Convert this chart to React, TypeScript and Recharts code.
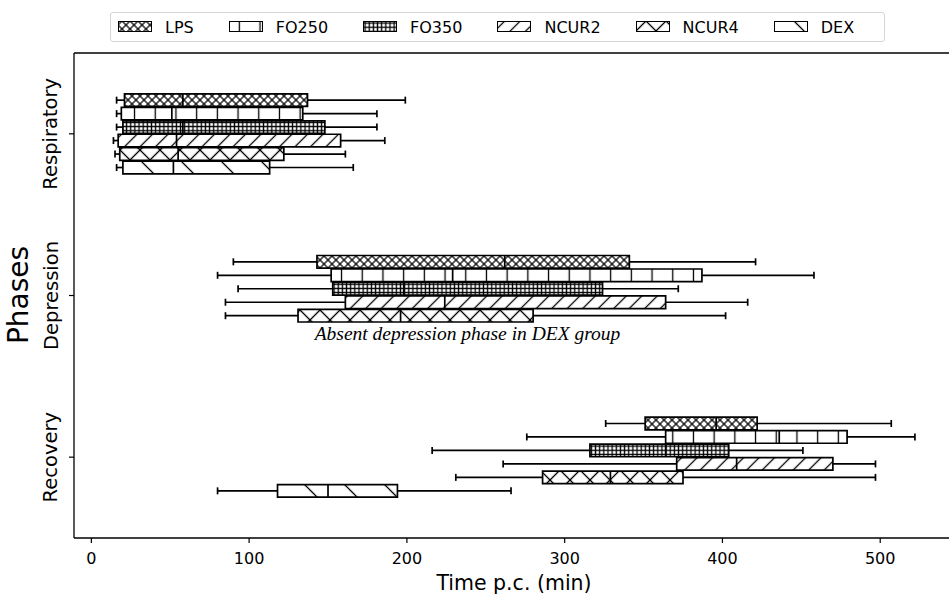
import React from "react";
import { ComposedChart, XAxis, YAxis, Scatter, ReferenceArea, ReferenceLine } from "recharts";

const phases = ["Respiratory", "Depression", "Recovery"];
const groups = ["LPS", "FO250", "FO350", "NCUR2", "NCUR4", "DEX"];
const xTicks = [0, 100, 200, 300, 400, 500];

// [whisker low, q1, median, q3, whisker high] per phase (Respiratory, Depression, Recovery)
const lps = [[16, 21, 58, 137, 199], [90, 143, 262, 341, 421], [326, 351, 396, 422, 507]];
const fo250 = [[16, 19, 51, 134, 181], [80, 152, 229, 387, 458], [276, 364, 436, 479, 522]];
const fo350 = [[16, 20, 58, 148, 181], [93, 153, 198, 324, 372], [216, 316, 364, 404, 451]];
const ncur2 = [[14, 17, 54, 158, 186], [85, 161, 224, 364, 416], [261, 371, 409, 470, 497]];
const ncur4 = [[15, 18, 55, 122, 161], [85, 131, 196, 280, 402], [231, 286, 329, 375, 497]];
const dex = [[16, 20, 52, 113, 166], null, [80, 118, 150, 194, 266]];

const stats = [lps, fo250, fo350, ncur2, ncur4, dex];

// hatch: spacing (px along x), angle, crossed
const hatches = [
  { id: "pat-LPS", spacing: 8, angle: 45, cross: true },
  { id: "pat-FO250", spacing: 20.7, angle: 0, cross: false },
  { id: "pat-FO350", spacing: 4.15, angle: 0, cross: true },
  { id: "pat-NCUR2", spacing: 15.5, angle: 45, cross: false },
  { id: "pat-NCUR4", spacing: 20, angle: 45, cross: true },
  { id: "pat-DEX", spacing: 40, angle: -45, cross: false },
];

const SLOT = 1 / 12;
const HALF = 0.039;
const CAP = 3.5;
const FONT = "DejaVu Sans, sans-serif";

type Row = { g: number; y: number; min: number; q1: number; med: number; q3: number; max: number };

const rows: Row[] = [];
phases.forEach((_, p) => {
  stats.forEach((s, g) => {
    const v = s[p];
    if (!v) return;
    rows.push({ g, y: p + (g - 2.5) * SLOT, min: v[0], q1: v[1], med: v[2], q3: v[3], max: v[4] });
  });
});

const caps = rows.flatMap((r) => [
  { x: r.min, y: r.y },
  { x: r.max, y: r.y },
]);
const medians = rows.map((r) => ({ x: r.med, y: r.y }));

function Patterns() {
  return (
    <svg width={0} height={0} style={{ position: "absolute" }}>
      <defs>
        {hatches.map((h) => {
          const p = h.angle === 0 ? h.spacing : h.spacing / Math.SQRT2;
          return (
            <pattern
              key={h.id}
              id={h.id}
              patternUnits="userSpaceOnUse"
              width={p}
              height={p}
              patternTransform={`rotate(${h.angle})`}
            >
              <rect width={p} height={p} fill="#fff" />
              <line x1={p / 2} y1={0} x2={p / 2} y2={p} stroke="#000" strokeWidth={1.3} />
              {h.cross && <line x1={0} y1={p / 2} x2={p} y2={p / 2} stroke="#000" strokeWidth={1.3} />}
            </pattern>
          );
        })}
      </defs>
    </svg>
  );
}

const XTick = (props: any) => {
  const { x, payload } = props;
  return (
    <text x={x} y={558} textAnchor="middle" dominantBaseline="central" fontSize={16} fontFamily={FONT} fill="#000">
      {payload.value}
    </text>
  );
};

const YTick = (props: any) => {
  const { y, payload } = props;
  return (
    <text
      x={51}
      y={y}
      transform={`rotate(-90, 51, ${y})`}
      textAnchor="middle"
      dominantBaseline="central"
      fontSize={19.5}
      fontFamily={FONT}
      fill="#000"
    >
      {phases[payload.value]}
    </text>
  );
};

const CapShape = (props: any) => (
  <line x1={props.cx} x2={props.cx} y1={props.cy - CAP} y2={props.cy + CAP} stroke="#000" strokeWidth={1.7} />
);
const MedianShape = (props: any) => (
  <line x1={props.cx} x2={props.cx} y1={props.cy - 6.3} y2={props.cy + 6.3} stroke="#000" strokeWidth={1.7} />
);

function Legend() {
  return (
    <div
      style={{
        position: "absolute",
        left: 110,
        top: 12,
        width: 775,
        height: 30,
        boxSizing: "border-box",
        border: "1px solid #d6d6d6",
        borderRadius: 3,
        display: "flex",
        alignItems: "center",
        paddingLeft: 7,
        fontFamily: FONT,
        fontSize: 16,
        background: "#fff",
      }}
    >
      {groups.map((g, i) => (
        <div key={g} style={{ display: "flex", alignItems: "center", marginRight: 35 }}>
          <svg width={34} height={11} style={{ marginRight: 13, marginTop: -2 }}>
            <rect x={0.5} y={0.5} width={33} height={10} fill={`url(#${hatches[i].id})`} stroke="#000" strokeWidth={1} />
          </svg>
          <span>{g}</span>
        </div>
      ))}
    </div>
  );
}

export default function App() {
  return (
    <div style={{ position: "absolute", left: 0, top: 0, width: 949, height: 594, overflow: "hidden", background: "#fff" }}>
      <Patterns />
      <ComposedChart width={955} height={594} margin={{ top: 53, right: 0, bottom: 0, left: 0 }}>
        <XAxis
          type="number"
          dataKey="x"
          domain={[-11, 547.4]}
          ticks={xTicks}
          allowDataOverflow
          height={56}
          axisLine={{ stroke: "#000", strokeWidth: 1.3 }}
          tickLine={{ stroke: "#000", strokeWidth: 1.2 }}
          tickSize={5}
          tick={<XTick />}
          label={{
            content: () => (
              <text x={514} y={583} textAnchor="middle" dominantBaseline="central" fontSize={20.5} fontFamily={FONT} fill="#000">
                Time p.c. (min)
              </text>
            ),
          }}
        />
        <YAxis
          type="number"
          dataKey="y"
          domain={[-0.5, 2.5]}
          ticks={[0, 1, 2]}
          reversed
          allowDataOverflow
          width={74}
          axisLine={{ stroke: "#000", strokeWidth: 1.3 }}
          tickLine={{ stroke: "#000", strokeWidth: 1.2 }}
          tickSize={5}
          tick={<YTick />}
          label={{
            content: () => (
              <text
                x={18}
                y={295}
                transform="rotate(-90, 18, 295)"
                textAnchor="middle"
                dominantBaseline="central"
                fontSize={28}
                fontFamily={FONT}
                fill="#000"
              >
                Phases
              </text>
            ),
          }}
        />
        <ReferenceLine y={-0.5} stroke="#000" strokeWidth={1.3} ifOverflow="visible" />
        {rows.map((r, i) => (
          <ReferenceLine
            key={`wl${i}`}
            segment={[{ x: r.min, y: r.y }, { x: r.q1, y: r.y }]}
            stroke="#000"
            strokeWidth={1.7}
            ifOverflow="visible"
          />
        ))}
        {rows.map((r, i) => (
          <ReferenceLine
            key={`wh${i}`}
            segment={[{ x: r.q3, y: r.y }, { x: r.max, y: r.y }]}
            stroke="#000"
            strokeWidth={1.7}
            ifOverflow="visible"
          />
        ))}
        {rows.map((r, i) => (
          <ReferenceArea
            key={`box${i}`}
            x1={r.q1}
            x2={r.q3}
            y1={r.y - HALF}
            y2={r.y + HALF}
            fill={`url(#${hatches[r.g].id})`}
            fillOpacity={1}
            stroke="#000"
            strokeWidth={1.7}
            ifOverflow="visible"
          />
        ))}
        <Scatter data={caps} shape={<CapShape />} isAnimationActive={false} />
        <Scatter data={medians} shape={<MedianShape />} isAnimationActive={false} />
      </ComposedChart>
      <Legend />
      <svg width={949} height={594} style={{ position: "absolute", left: 0, top: 0, pointerEvents: "none" }}>
        <text
          x={467.5}
          y={340}
          textAnchor="middle"
          fontSize={19.5}
          fontStyle="italic"
          fontFamily="Liberation Serif, serif"
          fill="#000"
        >
          Absent depression phase in DEX group
        </text>
      </svg>
    </div>
  );
}
